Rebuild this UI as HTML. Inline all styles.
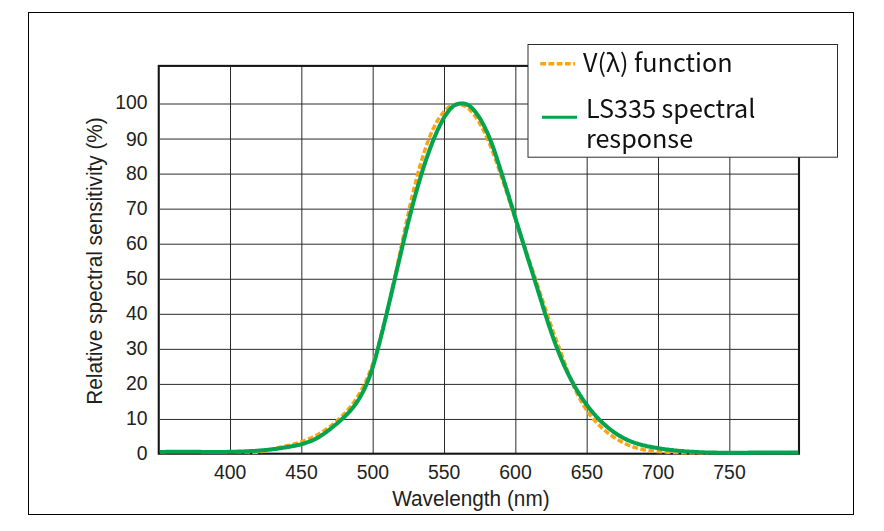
<!DOCTYPE html>
<html lang="en">
<head>
<meta charset="utf-8">
<title>Relative spectral sensitivity</title>
<style>
  html, body { margin: 0; padding: 0; background: #ffffff; }
  body { width: 884px; height: 531px; overflow: hidden; }
  svg { display: block; }
  .ax text { font-family: "Liberation Sans", sans-serif; font-size: 19.4px; fill: #221f20; }
  .lg text { font-family: "Noto Sans CJK SC", "Liberation Sans", sans-serif; font-size: 25.2px; fill: #111111; }
</style>
</head>
<body>
<svg width="884" height="531" viewBox="0 0 884 531">
  <rect x="0" y="0" width="884" height="531" fill="#ffffff"/>
  <!-- outer frame -->
  <rect x="28.5" y="12.5" width="825" height="502" fill="none" stroke="#000000" stroke-width="1"/>
  <!-- grid -->
  <g stroke="#2a2a2a" stroke-width="1" fill="none"><line x1="230.50" y1="67" x2="230.50" y2="453" /><line x1="301.83" y1="67" x2="301.83" y2="453" /><line x1="373.17" y1="67" x2="373.17" y2="453" /><line x1="444.50" y1="67" x2="444.50" y2="453" /><line x1="515.83" y1="67" x2="515.83" y2="453" /><line x1="587.17" y1="67" x2="587.17" y2="453" /><line x1="658.50" y1="67" x2="658.50" y2="453" /><line x1="729.83" y1="67" x2="729.83" y2="453" /><line x1="160" y1="419.45" x2="798" y2="419.45" /><line x1="160" y1="384.40" x2="798" y2="384.40" /><line x1="160" y1="349.35" x2="798" y2="349.35" /><line x1="160" y1="314.30" x2="798" y2="314.30" /><line x1="160" y1="279.25" x2="798" y2="279.25" /><line x1="160" y1="244.20" x2="798" y2="244.20" /><line x1="160" y1="209.15" x2="798" y2="209.15" /><line x1="160" y1="174.10" x2="798" y2="174.10" /><line x1="160" y1="139.05" x2="798" y2="139.05" /><line x1="160" y1="104.00" x2="798" y2="104.00" /></g>
  <!-- plot frame -->
  <rect x="158.75" y="65.9" width="640.25" height="387.8" fill="none" stroke="#161616" stroke-width="2.1"/>
  <!-- curves -->
  <path d="M236.0 452.0 L237.5 451.8 L239.0 451.8 L240.5 451.8 L242.0 451.8 L243.5 451.9 L245.0 451.9 L246.5 452.0 L248.0 452.1 L249.5 452.2 L251.0 452.3 L252.5 452.3 L254.0 452.3 L255.5 452.3 L257.0 452.2 L258.5 452.0 L260.0 451.8 L261.5 451.6 L262.9 451.3 L264.4 451.0 L265.9 450.6 L267.3 450.3 L268.8 449.9 L270.2 449.5 L271.7 449.1 L273.2 448.8 L274.6 448.4 L276.1 448.1 L277.6 447.8 L279.0 447.4 L280.5 447.1 L282.0 446.8 L283.4 446.5 L284.9 446.2 L286.4 445.8 L287.8 445.5 L289.3 445.2 L290.7 444.8 L292.2 444.4 L293.7 444.1 L295.1 443.7 L296.6 443.3 L298.0 442.9 L299.4 442.4 L300.9 442.0 L302.3 441.5 L303.7 441.0 L305.1 440.4 L306.5 439.9 L307.9 439.3 L309.3 438.7 L310.7 438.1 L312.0 437.5 L313.4 436.8 L314.7 436.1 L316.0 435.5 L317.4 434.7 L318.7 434.0 L320.0 433.2 L321.3 432.5 L322.5 431.7 L323.8 430.9 L325.1 430.1 L326.3 429.2 L327.5 428.3 L328.8 427.5 L330.0 426.6 L331.2 425.7 L332.3 424.7 L333.5 423.8 L334.7 422.8 L335.8 421.9 L337.0 420.9 L338.1 419.9 L339.2 418.9 L340.3 417.8 L341.3 416.8 L342.4 415.7 L343.5 414.6 L344.5 413.6 L345.5 412.5 L346.5 411.3 L347.5 410.2 L348.5 409.1 L349.5 407.9 L350.4 406.7 L351.3 405.6 L352.2 404.4 L353.1 403.2 L354.0 402.0 L354.9 400.7 L355.7 399.5 L356.6 398.2 L357.4 397.0 L358.2 395.7 L359.0 394.4 L359.7 393.1 L360.5 391.8 L361.2 390.5 L361.9 389.2 L362.6 387.9 L363.3 386.5 L364.0 385.2 L364.6 383.8 L365.3 382.5 L365.9 381.1 L366.5 379.7 L367.1 378.4 L367.7 377.0 L368.3 375.6 L368.9 374.2 L369.4 372.8 L370.0 371.4 L370.5 370.0 L371.0 368.6 L371.6 367.2 L372.1 365.8 L372.5 364.3 L373.0 362.9 L373.5 361.5 L374.0 360.1 L374.4 358.6 L374.9 357.2 L375.3 355.8 L375.8 354.3 L376.2 352.9 L376.6 351.5 L377.0 350.0 L377.5 348.6 L377.9 347.1 L378.3 345.7 L378.7 344.2 L379.1 342.8 L379.5 341.3 L379.9 339.9 L380.2 338.4 L380.6 337.0 L381.0 335.5 L381.4 334.1 L381.8 332.6 L382.1 331.2 L382.5 329.7 L382.9 328.2 L383.3 326.8 L383.6 325.3 L384.0 323.9 L384.4 322.4 L384.7 321.0 L385.1 319.5 L385.4 318.0 L385.8 316.6 L386.1 315.1 L386.5 313.7 L386.8 312.2 L387.2 310.7 L387.5 309.3 L387.9 307.8 L388.2 306.3 L388.6 304.9 L388.9 303.4 L389.2 302.0 L389.6 300.5 L389.9 299.0 L390.2 297.6 L390.6 296.1 L390.9 294.6 L391.2 293.2 L391.6 291.7 L391.9 290.2 L392.2 288.8 L392.5 287.3 L392.9 285.8 L393.2 284.4 L393.5 282.9 L393.8 281.4 L394.1 280.0 L394.5 278.5 L394.8 277.0 L395.1 275.6 L395.4 274.1 L395.7 272.6 L396.0 271.1 L396.4 269.7 L396.7 268.2 L397.0 266.7 L397.3 265.3 L397.6 263.8 L397.9 262.3 L398.2 260.9 L398.5 259.4 L398.9 257.9 L399.2 256.4 L399.5 255.0 L399.8 253.5 L400.1 252.0 L400.4 250.6 L400.7 249.1 L401.0 247.6 L401.3 246.2 L401.6 244.7 L402.0 243.2 L402.3 241.7 L402.6 240.3 L402.9 238.8 L403.2 237.3 L403.5 235.9 L403.8 234.4 L404.1 232.9 L404.4 231.5 L404.7 230.0 L405.1 228.5 L405.4 227.0 L405.7 225.6 L406.0 224.1 L406.3 222.6 L406.6 221.2 L407.0 219.7 L407.3 218.2 L407.6 216.8 L407.9 215.3 L408.2 213.8 L408.6 212.4 L408.9 210.9 L409.2 209.4 L409.5 208.0 L409.8 206.5 L410.2 205.0 L410.5 203.6 L410.8 202.1 L411.2 200.6 L411.5 199.2 L411.8 197.7 L412.2 196.2 L412.5 194.8 L412.9 193.3 L413.2 191.9 L413.6 190.4 L413.9 188.9 L414.3 187.5 L414.6 186.0 L415.0 184.6 L415.4 183.1 L415.7 181.6 L416.1 180.2 L416.5 178.7 L416.9 177.3 L417.3 175.8 L417.6 174.4 L418.0 172.9 L418.4 171.5 L418.8 170.0 L419.2 168.6 L419.6 167.1 L420.1 165.7 L420.5 164.2 L420.9 162.8 L421.3 161.4 L421.8 159.9 L422.2 158.5 L422.7 157.1 L423.1 155.6 L423.6 154.2 L424.0 152.8 L424.5 151.3 L425.0 149.9 L425.4 148.5 L425.9 147.1 L426.4 145.6 L426.9 144.2 L427.4 142.8 L428.0 141.4 L428.5 140.0 L429.0 138.6 L429.6 137.2 L430.1 135.8 L430.7 134.4 L431.3 133.0 L431.9 131.7 L432.5 130.3 L433.1 128.9 L433.8 127.6 L434.5 126.2 L435.2 124.9 L435.9 123.6 L436.6 122.2 L437.3 120.9 L438.1 119.6 L438.9 118.4 L439.7 117.1 L440.6 115.9 L441.5 114.7 L442.4 113.5 L443.4 112.3 L444.3 111.2 L445.4 110.1 L446.4 109.1 L447.6 108.1 L448.8 107.1 L450.0 106.3 L451.3 105.6 L452.7 105.1 L454.2 104.7 L455.7 104.4 L457.2 104.3 L458.7 104.3 L460.2 104.5 L461.6 104.8 L463.1 105.3 L464.4 105.9 L465.8 106.6 L467.0 107.4 L468.2 108.3 L469.3 109.3 L470.4 110.4 L471.4 111.5 L472.4 112.6 L473.4 113.8 L474.3 115.0 L475.2 116.2 L476.0 117.4 L476.9 118.7 L477.7 119.9 L478.5 121.2 L479.3 122.5 L480.0 123.8 L480.7 125.1 L481.5 126.4 L482.2 127.8 L482.8 129.1 L483.5 130.4 L484.2 131.8 L484.8 133.1 L485.5 134.5 L486.1 135.9 L486.7 137.2 L487.3 138.6 L487.9 140.0 L488.5 141.4 L489.1 142.8 L489.7 144.1 L490.2 145.5 L490.8 146.9 L491.3 148.3 L491.9 149.7 L492.4 151.1 L493.0 152.5 L493.5 153.9 L494.0 155.3 L494.5 156.8 L495.0 158.2 L495.6 159.6 L496.1 161.0 L496.6 162.4 L497.1 163.8 L497.6 165.2 L498.0 166.7 L498.5 168.1 L499.0 169.5 L499.5 170.9 L500.0 172.4 L500.5 173.8 L501.0 175.2 L501.4 176.6 L501.9 178.0 L502.4 179.5 L502.9 180.9 L503.4 182.3 L503.8 183.7 L504.3 185.2 L504.8 186.6 L505.2 188.0 L505.7 189.5 L506.2 190.9 L506.7 192.3 L507.1 193.7 L507.6 195.2 L508.1 196.6 L508.5 198.0 L509.0 199.4 L509.5 200.9 L509.9 202.3 L510.4 203.7 L510.8 205.2 L511.3 206.6 L511.8 208.0 L512.2 209.5 L512.7 210.9 L513.2 212.3 L513.6 213.7 L514.1 215.2 L514.6 216.6 L515.0 218.0 L515.5 219.5 L516.0 220.9 L516.4 222.3 L516.9 223.7 L517.4 225.2 L517.8 226.6 L518.3 228.0 L518.8 229.4 L519.2 230.9 L519.7 232.3 L520.2 233.7 L520.7 235.1 L521.1 236.6 L521.6 238.0 L522.1 239.4 L522.6 240.8 L523.1 242.3 L523.5 243.7 L524.0 245.1 L524.5 246.5 L525.0 248.0 L525.4 249.4 L525.9 250.8 L526.4 252.2 L526.9 253.7 L527.4 255.1 L527.9 256.5 L528.3 257.9 L528.8 259.4 L529.3 260.8 L529.8 262.2 L530.3 263.6 L530.7 265.0 L531.2 266.5 L531.7 267.9 L532.2 269.3 L532.7 270.7 L533.2 272.2 L533.6 273.6 L534.1 275.0 L534.6 276.4 L535.1 277.9 L535.6 279.3 L536.0 280.7 L536.5 282.1 L537.0 283.6 L537.5 285.0 L537.9 286.4 L538.4 287.8 L538.9 289.3 L539.4 290.7 L539.8 292.1 L540.3 293.5 L540.8 295.0 L541.2 296.4 L541.7 297.8 L542.2 299.3 L542.6 300.7 L543.1 302.1 L543.6 303.5 L544.0 305.0 L544.5 306.4 L545.0 307.8 L545.5 309.2 L545.9 310.7 L546.4 312.1 L546.9 313.5 L547.4 314.9 L547.9 316.4 L548.3 317.8 L548.8 319.2 L549.3 320.6 L549.8 322.0 L550.3 323.5 L550.8 324.9 L551.3 326.3 L551.8 327.7 L552.3 329.1 L552.8 330.5 L553.3 332.0 L553.8 333.4 L554.4 334.8 L554.9 336.2 L555.4 337.6 L555.9 339.0 L556.4 340.4 L557.0 341.8 L557.5 343.2 L558.0 344.7 L558.5 346.1 L559.0 347.5 L559.6 348.9 L560.1 350.3 L560.6 351.7 L561.1 353.1 L561.6 354.5 L562.1 355.9 L562.6 357.4 L563.1 358.8 L563.6 360.2 L564.2 361.6 L564.7 363.0 L565.2 364.4 L565.7 365.8 L566.2 367.2 L566.7 368.7 L567.3 370.1 L567.8 371.5 L568.3 372.9 L568.8 374.3 L569.4 375.7 L569.9 377.1 L570.5 378.5 L571.1 379.9 L571.6 381.3 L572.2 382.6 L572.8 384.0 L573.4 385.4 L574.0 386.8 L574.6 388.2 L575.2 389.5 L575.8 390.9 L576.5 392.3 L577.1 393.6 L577.8 395.0 L578.5 396.3 L579.2 397.6 L579.9 399.0 L580.6 400.3 L581.3 401.6 L582.1 402.9 L582.8 404.2 L583.6 405.5 L584.4 406.7 L585.2 408.0 L586.0 409.3 L586.9 410.5 L587.7 411.7 L588.6 413.0 L589.5 414.2 L590.4 415.4 L591.4 416.5 L592.3 417.7 L593.3 418.9 L594.2 420.0 L595.2 421.1 L596.3 422.2 L597.3 423.3 L598.3 424.4 L599.4 425.5 L600.5 426.5 L601.6 427.6 L602.7 428.6 L603.8 429.6 L604.9 430.5 L606.1 431.5 L607.3 432.5 L608.4 433.4 L609.6 434.3 L610.8 435.2 L612.1 436.0 L613.3 436.9 L614.6 437.7 L615.8 438.5 L617.1 439.3 L618.4 440.1 L619.7 440.8 L621.0 441.6 L622.4 442.2 L623.7 442.9 L625.1 443.6 L626.4 444.2 L627.8 444.8 L629.2 445.4 L630.6 445.9 L632.0 446.5 L633.4 447.0 L634.8 447.4 L636.3 447.9 L637.7 448.3 L639.2 448.7 L640.6 449.0 L642.1 449.4 L643.6 449.7 L645.0 449.9 L646.5 450.2 L648.0 450.4 L649.5 450.7 L651.0 450.8 L652.5 451.0 L654.0 451.2 L655.5 451.3 L657.0 451.5 L658.5 451.6 L660.0 451.7 L661.5 451.8 L663.0 451.9 L664.5 452.0 L666.0 452.1 L667.5 452.2 L669.0 452.2 L670.5 452.3 L672.0 452.4 L673.5 452.4 L675.0 452.5 L676.5 452.5 L678.0 452.6 L679.5 452.6 L681.0 452.7 L682.5 452.7 L684.0 452.7 L685.5 452.8 L687.0 452.8 L688.5 452.8 L690.0 452.8 L691.5 452.8 L693.0 452.8 L694.5 452.8 L696.0 452.8 L697.5 452.8 L699.0 452.8 L700.5 452.8 L702.0 452.8 L703.5 452.8 L705.0 452.7 L706.5 452.7 L708.0 452.7" fill="none" stroke="#fca311" stroke-width="3.5" stroke-dasharray="5.7 2.5" stroke-linejoin="round"/>
  <path d="M160.0 452.0 L161.5 451.9 L163.0 451.9 L164.5 451.9 L166.0 451.8 L167.5 451.8 L169.0 451.8 L170.5 451.8 L172.0 451.8 L173.5 451.8 L175.0 451.8 L176.5 451.8 L178.0 451.8 L179.5 451.8 L181.0 451.8 L182.5 451.8 L184.0 451.8 L185.5 451.8 L187.0 451.8 L188.5 451.8 L190.0 451.8 L191.5 451.8 L193.0 451.8 L194.5 451.8 L196.0 451.8 L197.5 451.8 L199.0 451.8 L200.5 451.8 L202.1 451.9 L203.6 451.9 L205.1 451.9 L206.6 451.9 L208.1 451.9 L209.6 451.9 L211.1 451.9 L212.6 451.9 L214.1 451.9 L215.6 451.9 L217.1 451.9 L218.6 451.9 L220.1 451.9 L221.6 451.9 L223.1 451.9 L224.6 451.9 L226.1 451.9 L227.6 451.8 L229.1 451.8 L230.6 451.8 L232.1 451.8 L233.6 451.7 L235.1 451.7 L236.6 451.7 L238.1 451.6 L239.6 451.6 L241.1 451.5 L242.6 451.5 L244.1 451.4 L245.6 451.3 L247.1 451.3 L248.6 451.2 L250.1 451.1 L251.6 451.0 L253.1 451.0 L254.6 450.9 L256.1 450.8 L257.6 450.7 L259.1 450.5 L260.6 450.4 L262.1 450.3 L263.6 450.2 L265.1 450.0 L266.6 449.9 L268.1 449.7 L269.6 449.6 L271.1 449.4 L272.6 449.3 L274.0 449.1 L275.5 448.9 L277.0 448.7 L278.5 448.5 L280.0 448.3 L281.5 448.1 L283.0 447.8 L284.5 447.6 L285.9 447.4 L287.4 447.1 L288.9 446.9 L290.4 446.6 L291.9 446.3 L293.3 446.0 L294.8 445.7 L296.3 445.4 L297.7 445.1 L299.2 444.7 L300.7 444.4 L302.1 444.0 L303.6 443.6 L305.0 443.2 L306.4 442.7 L307.9 442.2 L309.3 441.7 L310.7 441.2 L312.0 440.6 L313.4 440.0 L314.8 439.3 L316.1 438.6 L317.4 437.9 L318.7 437.2 L320.0 436.4 L321.3 435.6 L322.5 434.7 L323.8 433.9 L325.0 433.0 L326.2 432.1 L327.4 431.2 L328.6 430.3 L329.8 429.4 L330.9 428.5 L332.1 427.5 L333.3 426.6 L334.4 425.6 L335.6 424.7 L336.8 423.7 L337.9 422.7 L339.0 421.7 L340.2 420.7 L341.3 419.7 L342.4 418.7 L343.5 417.7 L344.6 416.7 L345.7 415.6 L346.7 414.6 L347.8 413.5 L348.8 412.4 L349.8 411.3 L350.8 410.1 L351.8 409.0 L352.7 407.8 L353.7 406.7 L354.6 405.5 L355.4 404.3 L356.3 403.0 L357.2 401.8 L358.0 400.5 L358.8 399.3 L359.6 398.0 L360.3 396.7 L361.1 395.4 L361.8 394.1 L362.5 392.7 L363.2 391.4 L363.9 390.1 L364.5 388.7 L365.2 387.4 L365.8 386.0 L366.4 384.6 L367.0 383.2 L367.6 381.8 L368.1 380.4 L368.7 379.0 L369.2 377.6 L369.7 376.2 L370.2 374.8 L370.7 373.4 L371.2 372.0 L371.7 370.6 L372.1 369.1 L372.6 367.7 L373.0 366.3 L373.5 364.8 L373.9 363.4 L374.3 361.9 L374.7 360.5 L375.1 359.0 L375.6 357.6 L376.0 356.2 L376.3 354.7 L376.7 353.3 L377.1 351.8 L377.5 350.4 L377.9 348.9 L378.3 347.4 L378.6 346.0 L379.0 344.5 L379.4 343.1 L379.8 341.6 L380.1 340.2 L380.5 338.7 L380.9 337.3 L381.2 335.8 L381.6 334.3 L382.0 332.9 L382.3 331.4 L382.7 330.0 L383.1 328.5 L383.4 327.1 L383.8 325.6 L384.1 324.1 L384.5 322.7 L384.8 321.2 L385.2 319.8 L385.6 318.3 L385.9 316.8 L386.3 315.4 L386.6 313.9 L387.0 312.5 L387.3 311.0 L387.6 309.5 L388.0 308.1 L388.3 306.6 L388.7 305.1 L389.0 303.7 L389.4 302.2 L389.7 300.8 L390.1 299.3 L390.4 297.8 L390.8 296.4 L391.1 294.9 L391.4 293.4 L391.8 292.0 L392.1 290.5 L392.5 289.1 L392.8 287.6 L393.1 286.1 L393.5 284.7 L393.8 283.2 L394.2 281.7 L394.5 280.3 L394.8 278.8 L395.2 277.4 L395.5 275.9 L395.8 274.4 L396.2 273.0 L396.5 271.5 L396.9 270.0 L397.2 268.6 L397.5 267.1 L397.9 265.6 L398.2 264.2 L398.6 262.7 L398.9 261.3 L399.3 259.8 L399.6 258.3 L399.9 256.9 L400.3 255.4 L400.6 253.9 L401.0 252.5 L401.3 251.0 L401.7 249.6 L402.0 248.1 L402.3 246.6 L402.7 245.2 L403.0 243.7 L403.4 242.3 L403.7 240.8 L404.1 239.3 L404.4 237.9 L404.8 236.4 L405.1 235.0 L405.5 233.5 L405.9 232.0 L406.2 230.6 L406.6 229.1 L406.9 227.7 L407.3 226.2 L407.6 224.7 L408.0 223.3 L408.4 221.8 L408.7 220.4 L409.1 218.9 L409.5 217.5 L409.8 216.0 L410.2 214.5 L410.6 213.1 L411.0 211.6 L411.3 210.2 L411.7 208.7 L412.1 207.3 L412.5 205.8 L412.8 204.4 L413.2 202.9 L413.6 201.5 L414.0 200.0 L414.4 198.6 L414.8 197.1 L415.2 195.7 L415.6 194.2 L416.0 192.8 L416.4 191.3 L416.8 189.9 L417.2 188.4 L417.6 187.0 L418.0 185.5 L418.5 184.1 L418.9 182.7 L419.3 181.2 L419.7 179.8 L420.2 178.3 L420.6 176.9 L421.0 175.5 L421.5 174.0 L421.9 172.6 L422.4 171.2 L422.8 169.7 L423.3 168.3 L423.7 166.9 L424.2 165.4 L424.7 164.0 L425.1 162.6 L425.6 161.2 L426.1 159.7 L426.6 158.3 L427.1 156.9 L427.6 155.5 L428.1 154.1 L428.6 152.6 L429.1 151.2 L429.6 149.8 L430.1 148.4 L430.6 147.0 L431.2 145.6 L431.7 144.2 L432.2 142.8 L432.8 141.4 L433.4 140.0 L433.9 138.6 L434.5 137.2 L435.1 135.8 L435.7 134.5 L436.3 133.1 L436.9 131.7 L437.5 130.3 L438.1 129.0 L438.8 127.6 L439.4 126.3 L440.1 124.9 L440.8 123.6 L441.5 122.2 L442.2 120.9 L442.9 119.6 L443.7 118.3 L444.4 117.0 L445.2 115.7 L446.1 114.5 L446.9 113.3 L447.8 112.0 L448.7 110.8 L449.6 109.7 L450.6 108.5 L451.7 107.5 L452.8 106.5 L454.0 105.6 L455.4 104.9 L456.7 104.3 L458.2 103.9 L459.6 103.6 L461.1 103.4 L462.6 103.4 L464.1 103.6 L465.6 104.0 L467.0 104.5 L468.3 105.2 L469.6 106.0 L470.8 106.9 L471.9 107.9 L472.9 109.0 L473.9 110.1 L474.9 111.3 L475.8 112.5 L476.7 113.7 L477.6 114.9 L478.4 116.1 L479.3 117.4 L480.0 118.7 L480.8 119.9 L481.6 121.2 L482.3 122.6 L483.0 123.9 L483.7 125.2 L484.4 126.6 L485.1 127.9 L485.7 129.3 L486.3 130.6 L487.0 132.0 L487.6 133.4 L488.2 134.7 L488.8 136.1 L489.3 137.5 L489.9 138.9 L490.4 140.3 L491.0 141.7 L491.5 143.1 L492.1 144.5 L492.6 145.9 L493.1 147.3 L493.6 148.7 L494.1 150.2 L494.6 151.6 L495.1 153.0 L495.5 154.4 L496.0 155.9 L496.5 157.3 L497.0 158.7 L497.4 160.1 L497.9 161.6 L498.4 163.0 L498.8 164.4 L499.3 165.8 L499.7 167.3 L500.2 168.7 L500.6 170.1 L501.1 171.6 L501.5 173.0 L502.0 174.4 L502.4 175.9 L502.9 177.3 L503.3 178.7 L503.8 180.2 L504.2 181.6 L504.7 183.0 L505.1 184.5 L505.6 185.9 L506.0 187.3 L506.5 188.8 L506.9 190.2 L507.3 191.7 L507.8 193.1 L508.2 194.5 L508.7 196.0 L509.1 197.4 L509.5 198.8 L510.0 200.3 L510.4 201.7 L510.8 203.1 L511.3 204.6 L511.7 206.0 L512.2 207.5 L512.6 208.9 L513.0 210.3 L513.5 211.8 L513.9 213.2 L514.3 214.6 L514.8 216.1 L515.2 217.5 L515.7 219.0 L516.1 220.4 L516.5 221.8 L517.0 223.3 L517.4 224.7 L517.9 226.1 L518.3 227.6 L518.8 229.0 L519.2 230.4 L519.6 231.9 L520.1 233.3 L520.5 234.7 L521.0 236.2 L521.4 237.6 L521.9 239.0 L522.3 240.5 L522.8 241.9 L523.2 243.4 L523.7 244.8 L524.1 246.2 L524.6 247.7 L525.0 249.1 L525.5 250.5 L525.9 252.0 L526.3 253.4 L526.8 254.8 L527.2 256.3 L527.7 257.7 L528.1 259.1 L528.6 260.6 L529.0 262.0 L529.5 263.4 L529.9 264.9 L530.4 266.3 L530.8 267.7 L531.3 269.2 L531.7 270.6 L532.2 272.0 L532.6 273.5 L533.1 274.9 L533.5 276.3 L534.0 277.8 L534.4 279.2 L534.9 280.6 L535.3 282.1 L535.8 283.5 L536.2 284.9 L536.7 286.4 L537.1 287.8 L537.6 289.2 L538.0 290.7 L538.4 292.1 L538.9 293.5 L539.3 295.0 L539.8 296.4 L540.2 297.8 L540.7 299.3 L541.1 300.7 L541.6 302.1 L542.0 303.6 L542.4 305.0 L542.9 306.4 L543.3 307.9 L543.8 309.3 L544.2 310.7 L544.7 312.2 L545.1 313.6 L545.6 315.0 L546.1 316.5 L546.5 317.9 L547.0 319.3 L547.4 320.8 L547.9 322.2 L548.4 323.6 L548.8 325.0 L549.3 326.5 L549.8 327.9 L550.3 329.3 L550.8 330.7 L551.2 332.2 L551.7 333.6 L552.2 335.0 L552.7 336.4 L553.2 337.8 L553.7 339.2 L554.2 340.7 L554.8 342.1 L555.3 343.5 L555.8 344.9 L556.3 346.3 L556.9 347.7 L557.4 349.1 L558.0 350.5 L558.5 351.9 L559.1 353.3 L559.6 354.7 L560.2 356.1 L560.8 357.5 L561.3 358.9 L561.9 360.2 L562.5 361.6 L563.1 363.0 L563.7 364.4 L564.3 365.7 L564.9 367.1 L565.6 368.5 L566.2 369.8 L566.8 371.2 L567.5 372.6 L568.1 373.9 L568.8 375.2 L569.5 376.6 L570.2 377.9 L570.9 379.3 L571.6 380.6 L572.3 381.9 L573.0 383.2 L573.7 384.6 L574.4 385.9 L575.2 387.2 L575.9 388.5 L576.7 389.8 L577.5 391.1 L578.3 392.3 L579.0 393.6 L579.8 394.9 L580.7 396.1 L581.5 397.4 L582.3 398.6 L583.2 399.9 L584.0 401.1 L584.9 402.3 L585.8 403.6 L586.7 404.8 L587.6 406.0 L588.5 407.2 L589.4 408.3 L590.3 409.5 L591.3 410.7 L592.3 411.8 L593.2 413.0 L594.2 414.1 L595.2 415.2 L596.2 416.4 L597.2 417.5 L598.3 418.5 L599.3 419.6 L600.4 420.7 L601.5 421.7 L602.5 422.8 L603.6 423.8 L604.8 424.8 L605.9 425.8 L607.0 426.8 L608.2 427.8 L609.3 428.7 L610.5 429.6 L611.7 430.5 L612.9 431.4 L614.1 432.3 L615.4 433.2 L616.6 434.0 L617.9 434.8 L619.2 435.6 L620.5 436.3 L621.8 437.1 L623.1 437.8 L624.4 438.5 L625.8 439.2 L627.1 439.8 L628.5 440.4 L629.9 441.0 L631.3 441.6 L632.7 442.1 L634.1 442.6 L635.5 443.1 L637.0 443.5 L638.4 444.0 L639.8 444.4 L641.3 444.8 L642.7 445.2 L644.2 445.5 L645.7 445.8 L647.1 446.2 L648.6 446.5 L650.1 446.8 L651.5 447.1 L653.0 447.3 L654.5 447.6 L656.0 447.8 L657.5 448.1 L659.0 448.3 L660.4 448.5 L661.9 448.8 L663.4 449.0 L664.9 449.2 L666.4 449.4 L667.9 449.6 L669.4 449.8 L670.9 449.9 L672.4 450.1 L673.8 450.3 L675.3 450.4 L676.8 450.6 L678.3 450.7 L679.8 450.9 L681.3 451.0 L682.8 451.1 L684.3 451.2 L685.8 451.4 L687.3 451.5 L688.8 451.6 L690.3 451.7 L691.8 451.8 L693.3 451.8 L694.8 451.9 L696.3 452.0 L697.8 452.1 L699.3 452.2 L700.8 452.2 L702.3 452.3 L703.8 452.3 L705.3 452.4 L706.8 452.4 L708.3 452.5 L709.8 452.5 L711.3 452.6 L712.8 452.6 L714.3 452.6 L715.8 452.6 L717.3 452.7 L718.8 452.7 L720.3 452.7 L721.8 452.7 L723.3 452.7 L724.8 452.7 L726.3 452.7 L727.8 452.7 L729.3 452.8 L730.8 452.8 L732.3 452.7 L733.8 452.7 L735.4 452.7 L736.9 452.7 L738.4 452.7 L739.9 452.7 L741.4 452.7 L742.9 452.7 L744.4 452.7 L745.9 452.7 L747.4 452.7 L748.9 452.6 L750.4 452.6 L751.9 452.6 L753.4 452.6 L754.9 452.6 L756.4 452.6 L757.9 452.5 L759.4 452.5 L760.9 452.5 L762.4 452.5 L763.9 452.5 L765.4 452.5 L766.9 452.5 L768.4 452.4 L769.9 452.4 L771.4 452.4 L772.9 452.4 L774.4 452.4 L775.9 452.4 L777.4 452.4 L778.9 452.4 L780.4 452.4 L781.9 452.4 L783.4 452.4 L784.9 452.4 L786.4 452.4 L787.9 452.4 L789.4 452.5 L790.9 452.5 L792.4 452.5 L793.9 452.5 L795.4 452.5 L796.9 452.6 L798.4 452.6" fill="none" stroke="#04a44f" stroke-width="4.05" stroke-linejoin="round"/>
  <!-- axis text -->
  <g class="ax">
    <text x="147.6" y="459.8" text-anchor="end">0</text><text x="147.6" y="425.1" text-anchor="end">10</text><text x="147.6" y="389.8" text-anchor="end">20</text><text x="147.6" y="355.3" text-anchor="end">30</text><text x="147.6" y="320.1" text-anchor="end">40</text><text x="147.6" y="285.1" text-anchor="end">50</text><text x="147.6" y="250.3" text-anchor="end">60</text><text x="147.6" y="215.1" text-anchor="end">70</text><text x="147.6" y="180.4" text-anchor="end">80</text><text x="147.6" y="145.9" text-anchor="end">90</text><text x="147.6" y="108.8" text-anchor="end">100</text>
    <text x="230.2" y="479.1" text-anchor="middle">400</text><text x="301.5" y="479.1" text-anchor="middle">450</text><text x="372.9" y="479.1" text-anchor="middle">500</text><text x="444.2" y="479.1" text-anchor="middle">550</text><text x="515.5" y="479.1" text-anchor="middle">600</text><text x="586.9" y="479.1" text-anchor="middle">650</text><text x="658.2" y="479.1" text-anchor="middle">700</text><text x="729.5" y="479.1" text-anchor="middle">750</text>
    <text transform="translate(470.9 505.7) scale(1 1.055)" text-anchor="middle" style="font-size:20.8px">Wavelength (nm)</text>
    <text transform="translate(102.4 261) rotate(-90) scale(1 1.055)" text-anchor="middle" style="font-size:20.8px">Relative spectral sensitivity (%)</text>
  </g>
  <!-- legend -->
  <rect x="528" y="44.5" width="309.5" height="112.7" fill="#ffffff" stroke="#2e2e2e" stroke-width="1"/>
  <line x1="540.25" y1="63.8" x2="575.1" y2="63.8" stroke="#fca311" stroke-width="3.4" stroke-dasharray="5.75 2.5"/>
  <line x1="542" y1="117.3" x2="577" y2="117.3" stroke="#04a44f" stroke-width="3"/>
  <g class="lg" style="filter:grayscale(1)">
    <text x="583" y="72">V(λ) function</text>
    <text x="585.9" y="117.8">LS335 spectral</text>
    <text x="585.9" y="147.7">response</text>
  </g>
</svg>
</body>
</html>
